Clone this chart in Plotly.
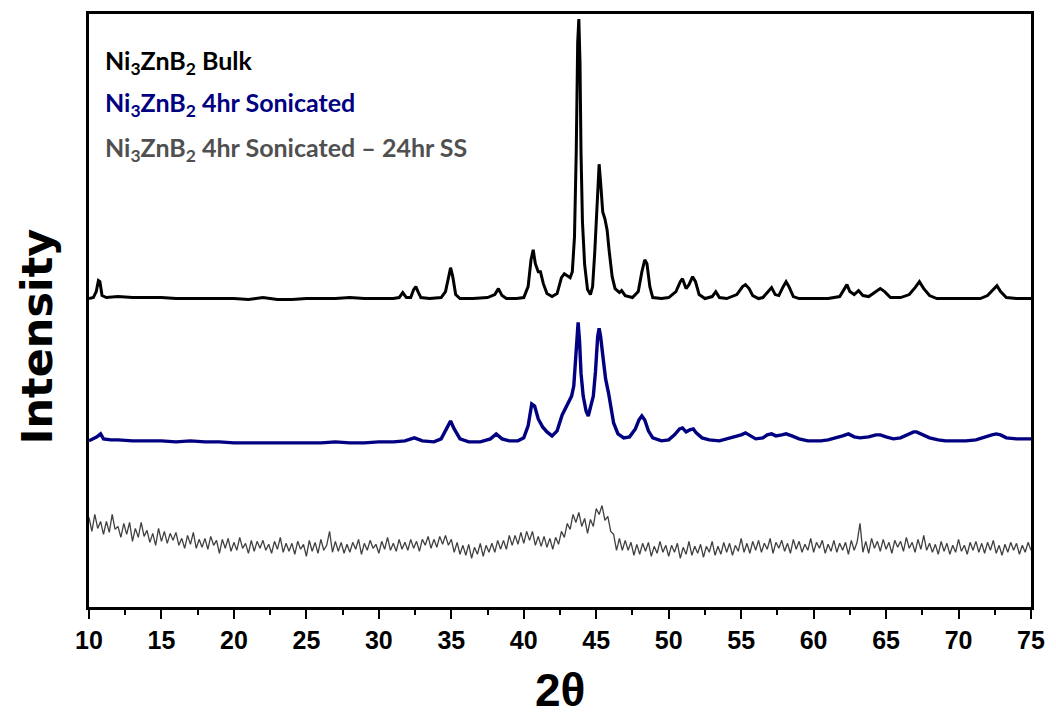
import plotly.graph_objects as go

# ---- Ni3ZnB2 Bulk (black) ----
bulk_x = [10.0, 10.3, 10.5, 10.65, 10.75, 10.9, 11.2, 12.0, 13.0, 14.0, 15.0, 16.0, 17.0, 18.0,
          19.0, 20.0, 21.0, 22.0, 23.0, 24.0, 25.0, 26.0, 27.0, 28.0, 29.0, 30.0, 31.0, 31.4,
          31.65, 31.9, 32.2, 32.4, 32.55, 32.7, 32.9, 33.5, 34.3, 34.6, 34.85, 34.95, 35.1, 35.3,
          35.6, 36.5, 37.5, 38.0, 38.25, 38.5, 38.8, 39.5, 40.0, 40.3, 40.5, 40.65, 40.8, 41.0,
          41.15, 41.35, 41.6, 41.95, 42.3, 42.6, 42.8, 43.0, 43.2, 43.35, 43.5, 43.62, 43.72, 43.8,
          43.88, 43.95, 44.05, 44.2, 44.4, 44.6, 44.75, 44.9, 45.05, 45.2, 45.3, 45.45, 45.6, 45.75,
          45.9, 46.1, 46.3, 46.6, 46.75, 47.0, 47.5, 47.9, 48.15, 48.35, 48.5, 48.7, 48.9, 49.5,
          50.0, 50.5, 50.8, 50.95, 51.2, 51.4, 51.65, 51.85, 52.1, 52.5, 53.0, 53.25, 53.5, 54.0,
          54.7, 55.1, 55.3, 55.55, 55.8, 56.2, 56.5, 56.9, 57.1, 57.35, 57.6, 57.9, 58.1, 58.3,
          58.6, 59.0, 60.0, 61.0, 61.8, 62.1, 62.3, 62.5, 62.8, 63.1, 63.4, 63.8, 64.3, 64.6,
          64.9, 65.3, 66.0, 66.6, 67.0, 67.3, 67.6, 68.0, 68.5, 69.5, 70.5, 71.5, 72.0, 72.4,
          72.65, 72.9, 73.3, 74.0, 75.0]
bulk_y = [310, 311, 317, 328, 327, 313, 311, 312, 311, 311, 311, 310, 310, 310,
          310, 310, 309, 311, 309, 309, 310, 310, 310, 311, 310, 310, 310, 311,
          316, 311, 311, 319, 322, 317, 311, 310, 311, 317, 335, 341, 332, 314,
          310, 310, 311, 314, 320, 313, 310, 310, 311, 322, 349, 359, 345, 337,
          337, 325, 315, 312, 315, 331, 335, 333, 331, 337, 372, 457, 567, 591,
          547, 457, 387, 344, 319, 314, 322, 357, 407, 445, 427, 397, 390, 379,
          357, 332, 320, 316, 318, 313, 311, 317, 337, 349, 345, 322, 311, 310,
          311, 317, 327, 330, 320, 324, 332, 327, 314, 310, 312, 317, 311, 310,
          314, 322, 324, 320, 313, 310, 311, 317, 321, 314, 313, 322, 327, 322,
          312, 310, 310, 310, 312, 319, 324, 317, 314, 318, 313, 312, 317, 320,
          317, 311, 311, 314, 321, 327, 320, 313, 310, 310, 310, 310, 313, 319,
          323, 317, 311, 310, 310]

# ---- Ni3ZnB2 4hr Sonicated (blue) ----
son_x = [10.0, 10.3, 10.55, 10.8, 11.0, 11.5, 12.0, 13.0, 14.0, 15.0, 16.0, 17.0, 18.0, 19.0,
         20.0, 21.0, 22.0, 23.0, 24.0, 25.0, 26.0, 27.0, 28.0, 29.0, 30.0, 31.0, 31.8, 32.45,
         33.0, 33.8, 34.3, 34.7, 34.95, 35.2, 35.6, 36.2, 37.0, 37.7, 38.1, 38.5, 39.0, 39.6,
         40.0, 40.3, 40.55, 40.75, 41.0, 41.3, 41.6, 41.95, 42.3, 42.65, 42.9, 43.1, 43.3, 43.45,
         43.6, 43.75, 43.85, 43.95, 44.1, 44.3, 44.45, 44.6, 44.8, 44.95, 45.1, 45.2, 45.3, 45.5,
         45.65, 45.85, 46.0, 46.2, 46.5, 46.9, 47.3, 47.7, 47.95, 48.15, 48.35, 48.6, 48.9, 49.5,
         50.0, 50.4, 50.75, 50.95, 51.2, 51.45, 51.7, 51.9, 52.3, 52.8, 53.5, 54.0, 54.6, 55.0,
         55.3, 55.6, 56.0, 56.5, 56.8, 57.1, 57.4, 57.8, 58.1, 58.5, 59.0, 59.6, 60.0, 60.5,
         61.0, 61.6, 62.0, 62.4, 62.8, 63.2, 63.8, 64.3, 64.6, 65.0, 65.5, 66.0, 66.5, 66.9,
         67.1, 67.5, 68.0, 68.6, 69.1, 69.8, 70.5, 71.2, 71.8, 72.3, 72.6, 72.9, 73.3, 74.0, 75.0]
son_y = [167, 169, 171, 174, 169, 168, 168, 167, 167, 167, 166, 167, 166, 166,
         165, 165, 165, 165, 165, 165, 165, 166, 165, 165, 166, 166, 167, 170,
         167, 166, 169, 180, 187, 179, 169, 166, 166, 169, 174, 169, 167, 167,
         170, 182, 204, 202, 189, 181, 176, 172, 177, 193, 200, 206, 212, 222,
         257, 286, 267, 235, 212, 197, 192, 200, 212, 237, 272, 280, 272, 247,
         229, 215, 202, 185, 174, 170, 171, 179, 188, 192, 188, 177, 170, 167,
         168, 173, 179, 180, 176, 178, 179, 175, 170, 168, 167, 169, 171, 173,
         175, 172, 169, 170, 173, 174, 172, 173, 174, 172, 169, 167, 167, 167,
         168, 170, 172, 174, 171, 170, 171, 173, 173, 171, 169, 170, 173, 176,
         176, 173, 170, 168, 167, 167, 167, 168, 171, 173, 174, 173, 170, 169, 169]

# ---- Ni3ZnB2 4hr Sonicated - 24hr SS (grey) ----
ss_x = [10.0, 10.2, 10.4, 10.6, 10.8, 11.0, 11.2, 11.4, 11.6, 11.8,
        12.0, 12.2, 12.4, 12.6, 12.8, 13.0, 13.2, 13.4, 13.6, 13.8,
        14.0, 14.2, 14.4, 14.6, 14.8, 15.0, 15.2, 15.4, 15.6, 15.8,
        16.0, 16.2, 16.4, 16.6, 16.8, 17.0, 17.2, 17.4, 17.6, 17.8,
        18.0, 18.2, 18.4, 18.6, 18.8, 19.0, 19.2, 19.4, 19.6, 19.8,
        20.0, 20.2, 20.4, 20.6, 20.8, 21.0, 21.2, 21.4, 21.6, 21.8,
        22.0, 22.2, 22.4, 22.6, 22.8, 23.0, 23.2, 23.4, 23.6, 23.8,
        24.0, 24.2, 24.4, 24.6, 24.8, 25.0, 25.2, 25.4, 25.6, 25.8,
        26.0, 26.2, 26.4, 26.6, 26.8, 27.0, 27.2, 27.4, 27.6, 27.8,
        28.0, 28.2, 28.4, 28.6, 28.8, 29.0, 29.2, 29.4, 29.6, 29.8,
        30.0, 30.2, 30.4, 30.6, 30.8, 31.0, 31.2, 31.4, 31.6, 31.8,
        32.0, 32.2, 32.4, 32.6, 32.8, 33.0, 33.2, 33.4, 33.6, 33.8,
        34.0, 34.2, 34.4, 34.6, 34.8, 35.0, 35.2, 35.4, 35.6, 35.8,
        36.0, 36.2, 36.4, 36.6, 36.8, 37.0, 37.2, 37.4, 37.6, 37.8,
        38.0, 38.2, 38.4, 38.6, 38.8, 39.0, 39.2, 39.4, 39.6, 39.8,
        40.0, 40.2, 40.4, 40.6, 40.8, 41.0, 41.2, 41.4, 41.6, 41.8,
        42.0, 42.2, 42.4, 42.6, 42.8, 43.0, 43.2, 43.4, 43.6, 43.8,
        44.0, 44.2, 44.4, 44.6, 44.8, 45.0, 45.2, 45.4, 45.6, 45.8,
        46.0, 46.2, 46.4, 46.6, 46.8, 47.0, 47.2, 47.4, 47.6, 47.8,
        48.0, 48.2, 48.4, 48.6, 48.8, 49.0, 49.2, 49.4, 49.6, 49.8,
        50.0, 50.2, 50.4, 50.6, 50.8, 51.0, 51.2, 51.4, 51.6, 51.8,
        52.0, 52.2, 52.4, 52.6, 52.8, 53.0, 53.2, 53.4, 53.6, 53.8,
        54.0, 54.2, 54.4, 54.6, 54.8, 55.0, 55.2, 55.4, 55.6, 55.8,
        56.0, 56.2, 56.4, 56.6, 56.8, 57.0, 57.2, 57.4, 57.6, 57.8,
        58.0, 58.2, 58.4, 58.6, 58.8, 59.0, 59.2, 59.4, 59.6, 59.8,
        60.0, 60.2, 60.4, 60.6, 60.8, 61.0, 61.2, 61.4, 61.6, 61.8,
        62.0, 62.2, 62.4, 62.6, 62.8, 63.0, 63.2, 63.4, 63.6, 63.8,
        64.0, 64.2, 64.4, 64.6, 64.8, 65.0, 65.2, 65.4, 65.6, 65.8,
        66.0, 66.2, 66.4, 66.6, 66.8, 67.0, 67.2, 67.4, 67.6, 67.8,
        68.0, 68.2, 68.4, 68.6, 68.8, 69.0, 69.2, 69.4, 69.6, 69.8,
        70.0, 70.2, 70.4, 70.6, 70.8, 71.0, 71.2, 71.4, 71.6, 71.8,
        72.0, 72.2, 72.4, 72.6, 72.8, 73.0, 73.2, 73.4, 73.6, 73.8,
        74.0, 74.2, 74.4, 74.6, 74.8, 75.0]
ss_y = [90, 76, 93, 79, 86, 73, 86, 75, 93, 78,
        81, 70, 84, 73, 85, 66, 79, 70, 85, 71,
        77, 65, 74, 62, 79, 66, 76, 64, 74, 67,
        75, 62, 69, 59, 72, 63, 75, 59, 68, 60,
        69, 58, 71, 62, 67, 54, 68, 59, 69, 56,
        65, 57, 70, 59, 64, 54, 67, 56, 66, 59,
        67, 57, 63, 54, 66, 58, 70, 55, 64, 56,
        64, 53, 66, 58, 63, 51, 67, 56, 65, 54,
        68, 57, 62, 76, 55, 66, 56, 65, 54, 63,
        55, 65, 58, 68, 53, 64, 57, 67, 59, 63,
        54, 66, 58, 70, 57, 64, 56, 68, 58, 65,
        57, 68, 59, 66, 56, 68, 62, 71, 59, 68,
        60, 71, 63, 72, 62, 68, 55, 65, 53, 62,
        52, 63, 49, 60, 53, 64, 51, 62, 55, 64,
        55, 67, 58, 67, 58, 72, 62, 72, 63, 75,
        64, 76, 67, 76, 62, 71, 61, 71, 60, 69,
        58, 70, 63, 76, 70, 84, 78, 93, 85, 95,
        81, 89, 74, 88, 81, 99, 93, 102, 87, 91,
        76, 73, 57, 69, 57, 67, 57, 65, 52, 63,
        53, 64, 56, 65, 51, 61, 54, 66, 55, 62,
        51, 62, 55, 64, 49, 60, 53, 66, 52, 61,
        54, 63, 50, 61, 55, 66, 52, 61, 53, 65,
        55, 64, 52, 62, 56, 69, 55, 64, 54, 66,
        57, 67, 55, 64, 58, 69, 54, 65, 59, 67,
        56, 64, 54, 68, 58, 66, 55, 63, 57, 69,
        55, 65, 59, 67, 54, 63, 56, 67, 55, 64,
        57, 65, 53, 67, 57, 65, 84, 55, 66, 54,
        69, 59, 66, 56, 68, 58, 65, 54, 67, 60,
        66, 56, 70, 59, 65, 55, 68, 58, 72, 57,
        64, 55, 63, 53, 66, 56, 64, 53, 62, 55,
        68, 56, 62, 53, 65, 57, 66, 55, 64, 54,
        65, 57, 67, 54, 62, 52, 63, 55, 65, 57,
        64, 53, 62, 55, 65, 57]

series_names = ["Ni<sub>3</sub>ZnB<sub>2</sub> Bulk",
                "Ni<sub>3</sub>ZnB<sub>2</sub> 4hr Sonicated",
                "Ni<sub>3</sub>ZnB<sub>2</sub> 4hr Sonicated \u2013 24hr SS"]
series_colors = ["#000000", "#000080", "#404040"]
x_ticks = [10, 15, 20, 25, 30, 35, 40, 45, 50, 55, 60, 65, 70, 75]

fig = go.Figure()
fig.add_trace(go.Scatter(x=ss_x, y=ss_y, mode="lines", name=series_names[2],
                         line=dict(color=series_colors[2], width=1.3)))
fig.add_trace(go.Scatter(x=son_x, y=son_y, mode="lines", name=series_names[1],
                         line=dict(color=series_colors[1], width=3.4)))
fig.add_trace(go.Scatter(x=bulk_x, y=bulk_y, mode="lines", name=series_names[0],
                         line=dict(color=series_colors[0], width=3)))

narrow = "Liberation Sans Narrow, Arial Narrow, Liberation Sans, Arial, sans-serif"

fig.update_layout(
    width=1056, height=719,
    margin=dict(l=89, r=23, t=11, b=112),
    paper_bgcolor="white", plot_bgcolor="white",
    showlegend=False,
    xaxis=dict(
        range=[10, 75], tickvals=x_ticks, ticktext=[str(v) for v in x_ticks],
        ticks="outside", ticklen=9, tickwidth=2, tickcolor="black",
        minor=dict(tickvals=[12.5 + 5 * i for i in range(13)], ticks="outside",
                   ticklen=5, tickwidth=2, tickcolor="black"),
        showline=True, linewidth=3, linecolor="black", mirror=True,
        showgrid=False, zeroline=False,
        tickfont=dict(family=narrow, size=25, color="black", weight="bold"),
    ),
    yaxis=dict(
        range=[0, 596], showticklabels=False, ticks="",
        showline=True, linewidth=2.5, linecolor="black", mirror=True,
        showgrid=False, zeroline=False,
    ),
    annotations=[
        dict(text="2\u03b8", xref="paper", yref="paper", x=0.5, y=0, yshift=-55,
             xanchor="center", yanchor="top", showarrow=False,
             font=dict(family=narrow, size=46, color="black", weight="bold")),
        dict(text="Intensity", xref="paper", yref="paper", x=0, y=0.5, xshift=-53, yshift=-26,
             xanchor="center", yanchor="middle", textangle=-90, showarrow=False,
             font=dict(family="DejaVu Sans, sans-serif", size=43, color="black", weight="bold")),
        dict(text=series_names[0], xref="paper", yref="paper", x=0, xshift=14, y=1, yshift=-48,
             xanchor="left", yanchor="middle", showarrow=False,
             font=dict(family="Lato, sans-serif", size=25, color=series_colors[0], weight="bold")),
        dict(text=series_names[1], xref="paper", yref="paper", x=0, xshift=14, y=1, yshift=-90,
             xanchor="left", yanchor="middle", showarrow=False,
             font=dict(family="Lato, sans-serif", size=25, color=series_colors[1], weight="bold")),
        dict(text=series_names[2], xref="paper", yref="paper", x=0, xshift=14, y=1, yshift=-135,
             xanchor="left", yanchor="middle", showarrow=False,
             font=dict(family="Lato, sans-serif", size=25, color="#505050", weight="bold")),
    ],
)

fig.write_html("out.html")
